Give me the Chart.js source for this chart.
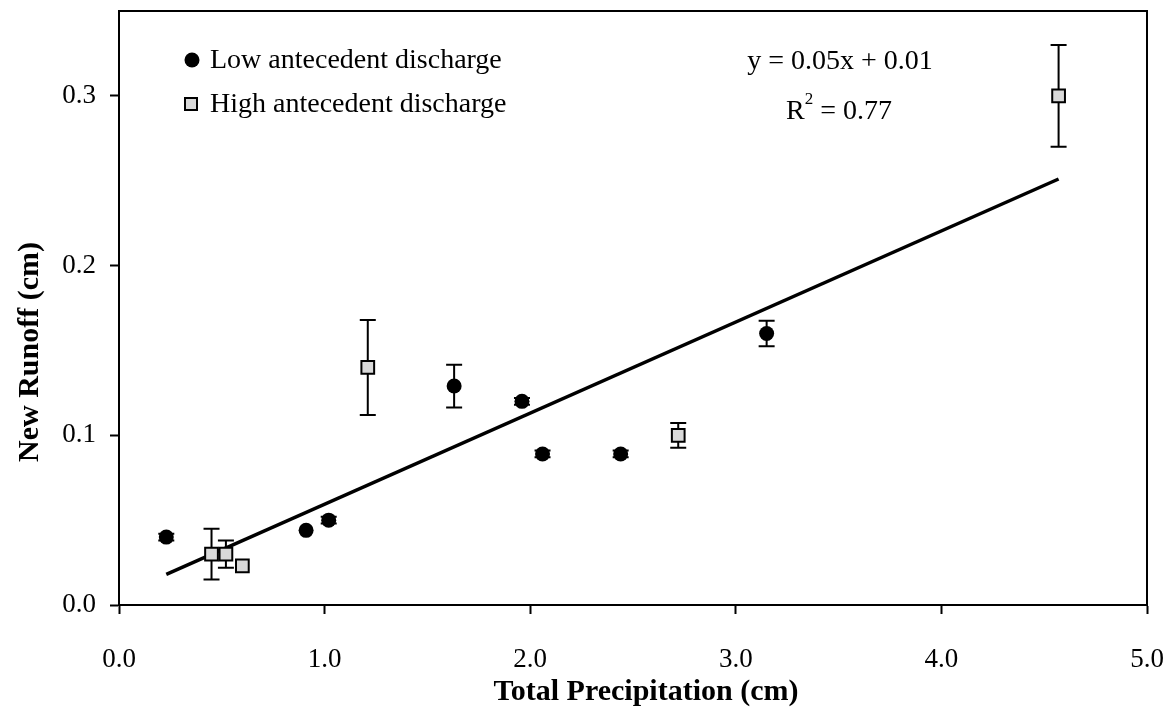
<!DOCTYPE html>
<html>
<head>
<meta charset="utf-8">
<script src="https://cdn.jsdelivr.net/npm/chart.js@4/dist/chart.umd.min.js"></script>
<style>
  body { margin: 0; background: #fff; }
  #wrap { width: 1174px; height: 709px; }
</style>
</head>
<body>
<div id="wrap"><canvas id="myChart" width="1174" height="709"></canvas></div>
<script>
// data
const lowLabel = 'Low antecedent discharge';
const lowX = [0.23, 0.91, 1.02, 1.63, 1.96, 2.06, 2.44, 3.15];
const lowY = [0.040, 0.044, 0.050, 0.129, 0.120, 0.089, 0.089, 0.160];
const lowErr = [0.002, 0, 0.002, 0.0126, 0.002, 0.002, 0.002, 0.0075];

const highLabel = 'High antecedent discharge';
const highX = [0.45, 0.52, 0.60, 1.21, 2.72, 4.57];
const highY = [0.030, 0.030, 0.023, 0.140, 0.100, 0.300];
const highErr = [0.015, 0.008, 0, 0.028, 0.0073, 0.030];

// fitted line end points
const trendX = [0.23, 4.57];
const trendY = [0.018, 0.251];

const xTicks = [0, 1, 2, 3, 4, 5];
const yTicks = [0, 0.1, 0.2, 0.3];

const eqText = 'y = 0.05x + 0.01';
const r2Text = '0.77';
const xTitle = 'Total Precipitation (cm)';
const yTitle = 'New Runoff (cm)';

const serif = "'Liberation Serif', 'Times New Roman', serif";

function toPoints(xs, ys) {
  return xs.map((x, i) => ({ x: x, y: ys[i] }));
}

// keep the plot box where the original has it
function noPad(scale) {
  scale.paddingLeft = 0;
  scale.paddingRight = 0;
  scale.paddingTop = 0;
  scale.paddingBottom = 0;
}

// error bars drawn under the markers
const errorBars = {
  id: 'errorBars',
  beforeDatasetsDraw(chart) {
    const ctx = chart.ctx;
    const xs = chart.scales.x;
    const ys = chart.scales.y;
    const sets = [[lowX, lowY, lowErr], [highX, highY, highErr]];
    ctx.save();
    ctx.strokeStyle = '#000';
    ctx.lineWidth = 2;
    sets.forEach(([xv, yv, ev]) => {
      xv.forEach((x, i) => {
        if (!ev[i]) return;
        const px = xs.getPixelForValue(x);
        const top = ys.getPixelForValue(yv[i] + ev[i]);
        const bot = ys.getPixelForValue(yv[i] - ev[i]);
        ctx.beginPath();
        ctx.moveTo(px, top); ctx.lineTo(px, bot);
        ctx.moveTo(px - 8, top); ctx.lineTo(px + 8, top);
        ctx.moveTo(px - 8, bot); ctx.lineTo(px + 8, bot);
        ctx.stroke();
      });
    });
    ctx.restore();
  }
};

// frame, legend inside the plot, equation text and axis titles
const extras = {
  id: 'extras',
  afterDraw(chart) {
    const ctx = chart.ctx;
    const a = chart.chartArea;
    ctx.save();
    ctx.strokeStyle = '#000';
    ctx.lineWidth = 2;
    ctx.strokeRect(a.left, a.top, a.right - a.left, a.bottom - a.top);

    // legend
    ctx.font = '28px ' + serif;
    ctx.textBaseline = 'middle';
    ctx.textAlign = 'left';
    ctx.fillStyle = '#000';
    ctx.beginPath();
    ctx.arc(192, 60, 7.5, 0, Math.PI * 2);
    ctx.fill();
    ctx.fillText(chart.data.datasets[0].label, 210, 61);

    ctx.fillStyle = '#d9d9d9';
    ctx.fillRect(185, 98, 12, 12);
    ctx.lineWidth = 2;
    ctx.strokeRect(185, 98, 12, 12);
    ctx.fillStyle = '#000';
    ctx.fillText(chart.data.datasets[1].label, 210, 105);

    // regression text
    ctx.textAlign = 'center';
    ctx.fillText(eqText, 840, 62);
    const rest = ' = ' + r2Text;
    const wR = ctx.measureText('R').width;
    const wRest = ctx.measureText(rest).width;
    ctx.font = '17px ' + serif;
    const w2 = ctx.measureText('2').width;
    const start = 839 - (wR + w2 + wRest) / 2;
    ctx.textAlign = 'left';
    ctx.font = '28px ' + serif;
    ctx.fillText('R', start, 112);
    ctx.fillText(rest, start + wR + w2, 112);
    ctx.font = '17px ' + serif;
    ctx.fillText('2', start + wR, 100);

    // axis titles
    ctx.font = 'bold 30px ' + serif;
    ctx.textAlign = 'center';
    ctx.fillText(xTitle, 646, 692);
    ctx.translate(30, 352);
    ctx.rotate(-Math.PI / 2);
    ctx.fillText(yTitle, 0, 0);
    ctx.restore();
  }
};

const ctx = document.getElementById('myChart').getContext('2d');
const myChart = new Chart(ctx, {
  type: 'scatter',
  data: {
    datasets: [
      {
        label: lowLabel,
        data: toPoints(lowX, lowY),
        pointStyle: 'circle',
        pointRadius: 7.5,
        pointHoverRadius: 7.5,
        backgroundColor: '#000',
        borderColor: '#000',
        borderWidth: 0
      },
      {
        label: highLabel,
        data: toPoints(highX, highY),
        pointStyle: 'rect',
        pointRadius: 9,
        pointHoverRadius: 9,
        backgroundColor: '#d9d9d9',
        borderColor: '#000',
        borderWidth: 2
      },
      {
        label: 'Linear fit',
        type: 'line',
        data: toPoints(trendX, trendY),
        showLine: true,
        pointRadius: 0,
        borderColor: '#000',
        borderWidth: 3.5,
        fill: false
      }
    ]
  },
  options: {
    responsive: false,
    animation: false,
    layout: { padding: { left: 0, top: 9, right: 27, bottom: 0 } },
    plugins: {
      legend: { display: false },
      tooltip: { enabled: false }
    },
    scales: {
      x: {
        type: 'linear',
        min: 0,
        max: 5,
        afterBuildTicks: (scale) => { scale.ticks = xTicks.map(v => ({ value: v })); },
        afterFit: (scale) => { scale.height = 104; noPad(scale); },
        ticks: {
          callback: (v) => v.toFixed(1),
          color: '#000',
          font: { family: serif, size: 27 },
          padding: 30,
          maxRotation: 0
        },
        grid: { drawOnChartArea: false, tickLength: 9, tickColor: '#000', tickWidth: 2 },
        border: { color: '#000', width: 2 }
      },
      y: {
        type: 'linear',
        min: 0,
        max: 0.35,
        afterBuildTicks: (scale) => { scale.ticks = yTicks.map(v => ({ value: v })); },
        afterFit: (scale) => { scale.width = 119; noPad(scale); },
        ticks: {
          callback: (v) => v.toFixed(1),
          color: '#000',
          font: { family: serif, size: 27 },
          padding: 14
        },
        grid: { drawOnChartArea: false, tickLength: 9, tickColor: '#000', tickWidth: 2 },
        border: { color: '#000', width: 2 }
      }
    }
  },
  plugins: [errorBars, extras]
});
</script>
</body>
</html>
